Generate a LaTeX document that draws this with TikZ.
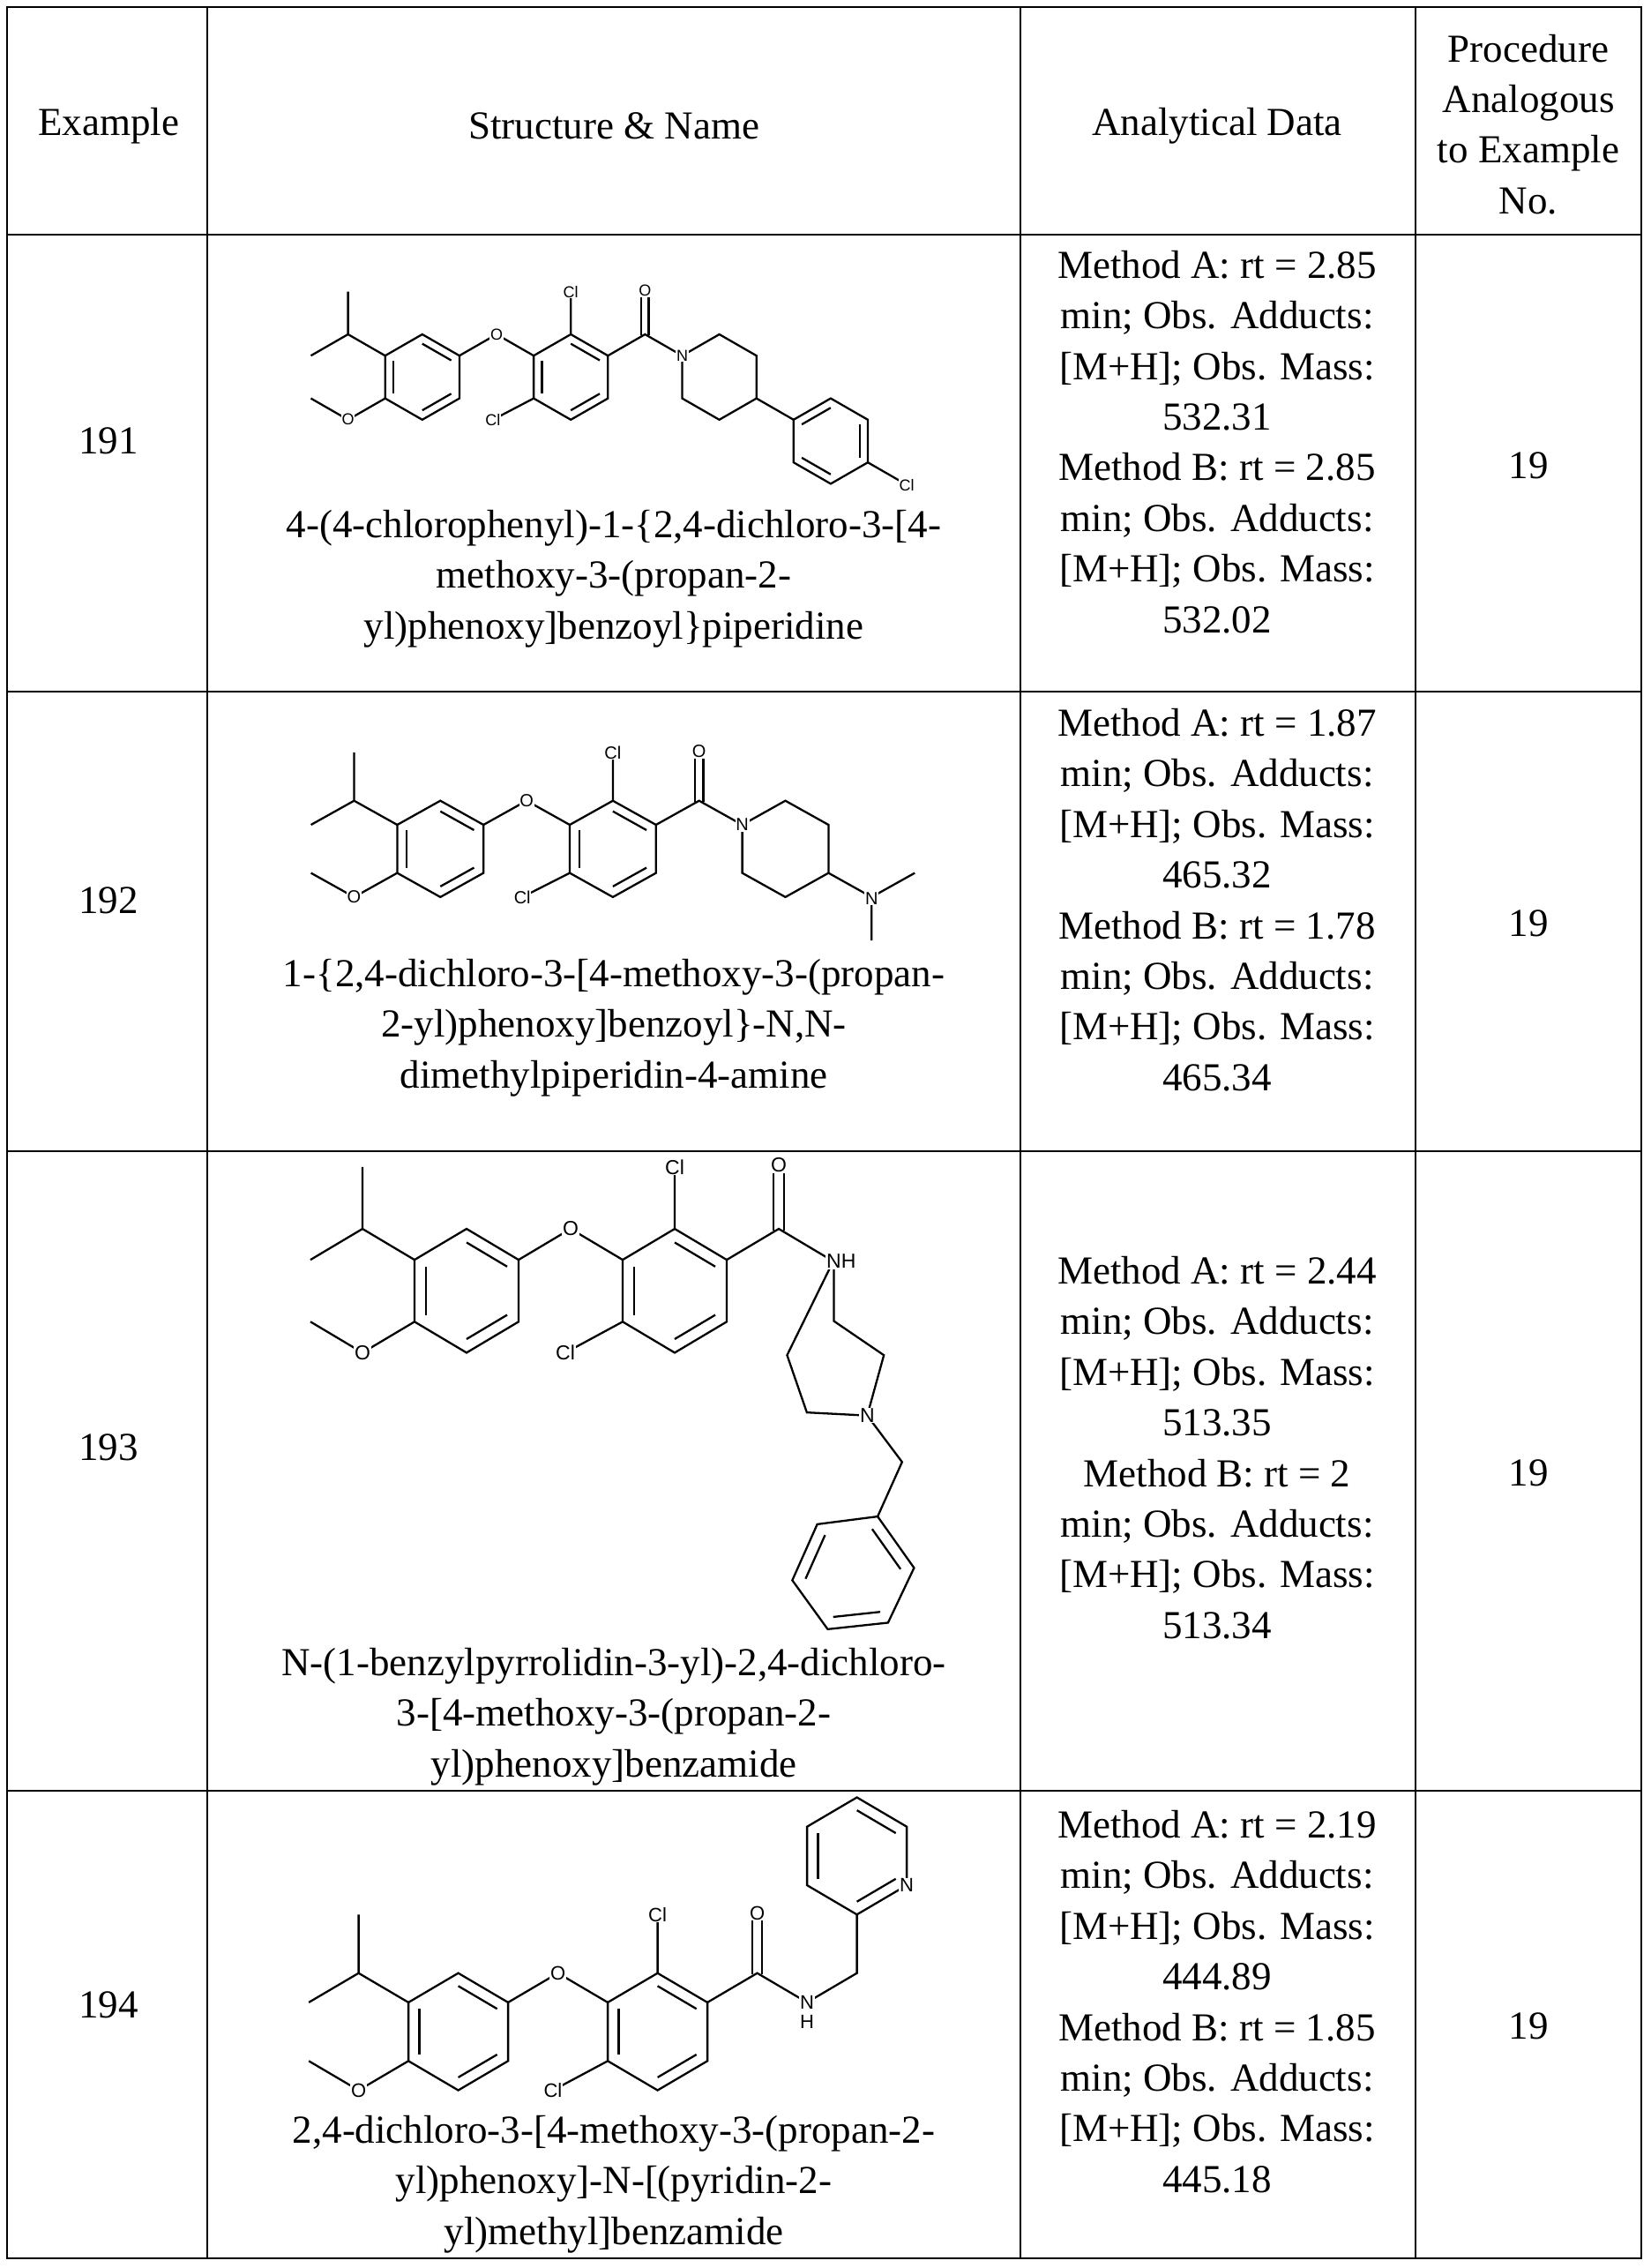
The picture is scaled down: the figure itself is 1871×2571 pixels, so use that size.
\documentclass[tikz,border=0pt]{standalone}
\usepackage{fontspec}
\setmainfont{Liberation Serif}
\newfontfamily\labfont{Liberation Sans}
\usetikzlibrary{calc}
\tikzset{
 grid/.style={line width=2.2pt},
 bond/.style={line width=2.3pt, line join=miter},
 txt/.style={align=center, font=\fontsize{45}{57.4}\selectfont, inner sep=0pt},
 atom/.style={fill=white, inner sep=0.8pt, font=\labfont\fontsize{\atomsize}{\atomsize}\selectfont},
}
\newcommand\atomsize{18}
\newcommand\dbl[3]{\draw[bond] ($#1!0.22!#3$)--($#2!0.22!#3$);}
\newcommand\molcore{%
 \draw[bond] (0,-2)--(0,0)--(-1,1) (0,0)--(1,1);
 \draw[bond] (2,0)--(3,1)--(3,3)--(2,4)--(1,3)--(1,1)--cycle;
 \dbl{(1,1)}{(1,3)}{(2,2)}\dbl{(2,0)}{(3,1)}{(2,2)}\dbl{(2,4)}{(3,3)}{(2,2)}
 \draw[bond] (1,3)--(0,4)--(-1,3);
 \draw[bond] (3,1)--(4,0)--(5,1);
 \draw[bond] (6,0)--(7,1)--(7,3)--(6,4)--(5,3)--(5,1)--cycle;
 \dbl{(5,1)}{(5,3)}{(6,2)}\dbl{(6,0)}{(7,1)}{(6,2)}\dbl{(6,4)}{(7,3)}{(6,2)}
 \draw[bond] (6,0)--(6,-2) (5,3)--(3.9,4);
 \draw[bond] (7,1)--(8,0)--(9,1);
 \draw[bond] (7.9,0.05)--(7.9,-2) (8.1,0.05)--(8.1,-2);
 \node[atom] (mo) at (0,4) {O};
 \node[atom] (bo) at (4,0) {O};
 \node[atom] (cl1) at (6,-2) {Cl};
 \node[atom] (cl2) at (3.9,4) {Cl};
 \node[atom] (co) at (8,-2.05) {O};
}
\begin{document}
\begin{tikzpicture}[x=1pt,y=-1pt]
\useasboundingbox[fill=white] (0,0) rectangle (1871,2571);
% table
\draw[grid] (8,8) rectangle (1861,2560);
\foreach \xx in {235,1157,1605} \draw[grid] (\xx,8)--(\xx,2560);
\foreach \yy in {266,784,1305,2030} \draw[grid] (8,\yy)--(1861,\yy);
% header
\node[txt] (h1) at (123,143) {Example};
\node[txt] (h2) at (696,143) {Structure \& Name};
\node[txt] (h3) at (1380,143) {Analytical Data};
\node[txt] (h4) at (1733,141) {Procedure\\Analogous\\to Example\\No.};
% row 191
\node[txt] (e1) at (123,500) {191};
\node[txt] (n1) at (696,656) {4-(4-chlorophenyl)-1-\{2,4-dichloro-3-[4-\\methoxy-3-(propan-2-\\yl)phenoxy]benzoyl\}piperidine};
\node[txt] (a1) at (1380,501) {Method A: rt = 2.85\\min; Obs. Adducts:\\{[M+H]}; Obs. Mass:\\532.31\\Method B: rt = 2.85\\min; Obs. Adducts:\\{[M+H]}; Obs. Mass:\\532.02};
\node[txt] (p1) at (1733,528) {19};
% row 192
\node[txt] (e2) at (123,1021) {192};
\node[txt] (n2) at (696,1165) {1-\{2,4-dichloro-3-[4-methoxy-3-(propan-\\2-yl)phenoxy]benzoyl\}-N,N-\\dimethylpiperidin-4-amine};
\node[txt] (a2) at (1380,1020) {Method A: rt = 1.87\\min; Obs. Adducts:\\{[M+H]}; Obs. Mass:\\465.32\\Method B: rt = 1.78\\min; Obs. Adducts:\\{[M+H]}; Obs. Mass:\\465.34};
\node[txt] (p2) at (1733,1047) {19};
% row 193
\node[txt] (e3) at (123,1641) {193};
\node[txt] (n3) at (696,1946) {N-(1-benzylpyrrolidin-3-yl)-2,4-dichloro-\\3-[4-methoxy-3-(propan-2-\\yl)phenoxy]benzamide};
\node[txt] (a3) at (1380,1641) {Method A: rt = 2.44\\min; Obs. Adducts:\\{[M+H]}; Obs. Mass:\\513.35\\Method B: rt = 2\\min; Obs. Adducts:\\{[M+H]}; Obs. Mass:\\513.34};
\node[txt] (p3) at (1733,1670) {19};
% row 194
\node[txt] (e4) at (123,2273) {194};
\node[txt] (n4) at (696,2476) {2,4-dichloro-3-[4-methoxy-3-(propan-2-\\yl)phenoxy]-N-[(pyridin-2-\\yl)methyl]benzamide};
\node[txt] (a4) at (1380,2269) {Method A: rt = 2.19\\min; Obs. Adducts:\\{[M+H]}; Obs. Mass:\\444.89\\Method B: rt = 1.85\\min; Obs. Adducts:\\{[M+H]}; Obs. Mass:\\445.18};
\node[txt] (p4) at (1733,2297) {19};
% molecule 191
\begin{scope}[shift={(394.6,379)}, x={(42.1pt,0pt)}, y={(0pt,-24.2pt)}]
\renewcommand\atomsize{18}
\draw[bond] (9,1)--(10,0)--(11,1)--(11,3)--(10,4)--(9,3)--cycle;
\draw[bond] (11,3)--(12,4);
\draw[bond] (12,4)--(13,3)--(14,4)--(14,6)--(13,7)--(12,6)--cycle;
\dbl{(12,4)}{(13,3)}{(13,5)}\dbl{(14,4)}{(14,6)}{(13,5)}\dbl{(12,6)}{(13,7)}{(13,5)}
\draw[bond] (14,6)--(15,7);
\molcore
\node[atom] (n) at (9,1) {N};
\node[atom] (cl3) at (15.05,7.05) {Cl};
\end{scope}
% molecule 192
\begin{scope}[shift={(401.5,907.7)}, x={(48.9pt,0pt)}, y={(0pt,-27.3pt)}]
\renewcommand\atomsize{20}
\draw[bond] (9,1)--(10,0)--(11,1)--(11,3)--(10,4)--(9,3)--cycle;
\draw[bond] (11,3)--(12,4)--(13,3) (12,4)--(12,5.8);
\molcore
\node[atom] (n) at (9,1) {N};
\node[atom] (nm) at (12,4.05) {N};
\end{scope}
% molecule 193
\begin{scope}[shift={(411,1393)}, x={(59pt,0pt)}, y={(0pt,-35.1pt)}]
\renewcommand\atomsize{23}
\draw[bond] (9.06,1)--(9.06,2.98)--(10.02,4.08)--(9.70,6.03)--(8.54,5.93)--(8.16,4.08)--cycle;
\draw[bond] (9.70,6.03)--(10.37,7.53)--(9.90,9.29);
\draw[bond] (9.90,9.29)--(8.74,9.54)--(8.26,11.35)--(8.94,12.93)--(10.10,12.72)--(10.6,10.95)--cycle;
\dbl{(9.90,9.29)}{(10.6,10.95)}{(9.42,11.13)}\dbl{(8.74,9.54)}{(8.26,11.35)}{(9.42,11.13)}\dbl{(8.94,12.93)}{(10.10,12.72)}{(9.42,11.13)}
\molcore
\node[atom] (nh) at (9.2,1.05) {NH};
\node[atom] (np) at (9.70,6.03) {N};
\end{scope}
% molecule 194
\begin{scope}[shift={(406.6,2236.7)}, x={(56.5pt,0pt)}, y={(0pt,-33.2pt)}]
\renewcommand\atomsize{22}
\draw[bond] (9,1)--(10,0)--(10,-2);
\draw[bond] (10,-2)--(11,-3)--(11,-5)--(10,-6)--(9,-5)--(9,-3)--cycle;
\dbl{(10,-2)}{(11,-3)}{(10,-4)}\dbl{(10,-6)}{(11,-5)}{(10,-4)}\dbl{(9,-5)}{(9,-3)}{(10,-4)}
\molcore
\node[atom] (nh) at (9,1) {N};
\node[atom] (hh) at (9,1.65) {H};
\node[atom] (npy) at (11,-3) {N};
\end{scope}
\end{tikzpicture}
\end{document}
